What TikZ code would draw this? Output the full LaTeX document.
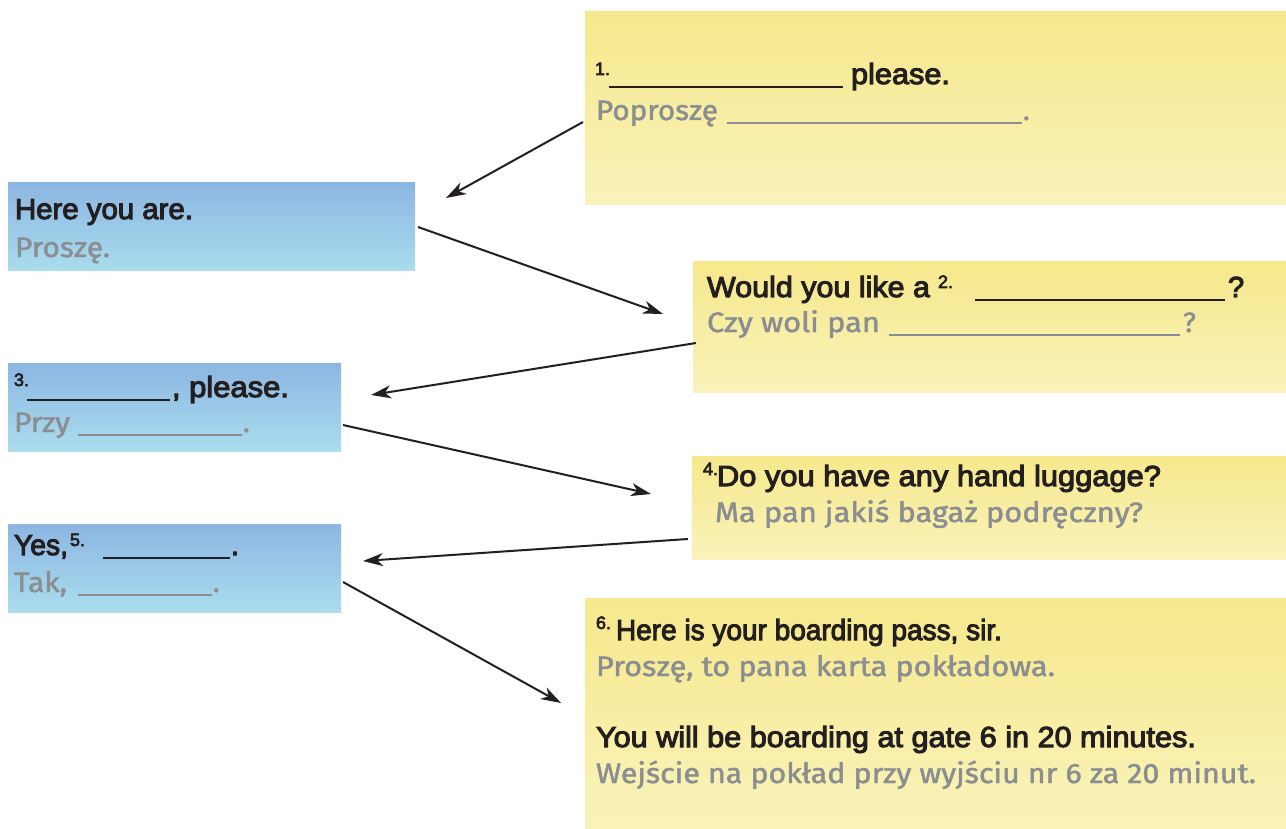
\documentclass[tikz,border=0pt]{standalone}
\usepackage{fontspec}
\setmainfont{Liberation Sans}
\newfontfamily\medfont[FakeBold=3.5]{Liberation Sans}
\newfontfamily\greyfont[FakeBold=1.5]{Fira Sans}
\usetikzlibrary{arrows.meta}
\definecolor{ink}{RGB}{35,31,32}
\definecolor{greytext}{RGB}{138,141,145}
\definecolor{blueTop}{RGB}{140,182,226}
\definecolor{blueMid}{RGB}{160,208,234}
\definecolor{blueBot}{RGB}{170,221,237}
\definecolor{yelTop}{RGB}{246,232,140}
\definecolor{yelMid}{RGB}{247,238,168}
\definecolor{yelBot}{RGB}{249,243,186}
\newcommand\seg[6]{\node[#5] (#1) at (#2,#3) {\resizebox{#4pt}{\height}{#6}};}
\tikzset{
  blk/.style={anchor=base west, inner sep=0pt, outer sep=0pt, text=ink, font=\medfont\fontsize{29}{34}\selectfont},
  gry/.style={anchor=base west, inner sep=0pt, outer sep=0pt, text=greytext, font=\greyfont\fontsize{28}{33}\selectfont},
  supn/.style={anchor=base west, inner sep=0pt, outer sep=0pt, text=ink, font=\medfont\fontsize{18}{21}\selectfont},
  blankk/.style={draw=ink, line width=1.3pt},
  blankg/.style={draw=greytext, line width=1.3pt},
  bluebox/.style={anchor=north west, inner sep=0pt, outer sep=0pt, draw=none, top color=blueTop, middle color=blueMid, bottom color=blueBot},
  yelbox/.style={anchor=north west, inner sep=0pt, outer sep=0pt, draw=none, top color=yelTop, middle color=yelMid, bottom color=yelBot},
  conn/.style={draw=ink, line width=2pt, -{Stealth[length=20pt,width=13pt,inset=6pt]}}
}
\begin{document}
\begin{tikzpicture}[x=1pt,y=-1pt]
\useasboundingbox (0,0) rectangle (1286,829);
% boxes
\node[yelbox, minimum width=701pt, minimum height=193pt] (y1) at (585,12) {};
\node[bluebox, minimum width=407pt, minimum height=88pt] (b1) at (8,183) {};
\node[yelbox, minimum width=593pt, minimum height=130pt] (y2) at (693,262) {};
\node[bluebox, minimum width=333pt, minimum height=88pt] (b2) at (8,363) {};
\node[yelbox, minimum width=594pt, minimum height=103pt] (y3) at (692,456) {};
\node[bluebox, minimum width=333pt, minimum height=88pt] (b3) at (8,524) {};
\node[yelbox, minimum width=701pt, minimum height=230pt] (y4) at (585,598) {};
% yellow 1
\node[supn] (s1) at (595,75) {1.};
\draw[blankk] (609,87) -- (843,87);
\seg{t1a}{851}{84}{99}{blk}{please.}
\seg{t1b}{596}{120}{122}{gry}{Poproszę}
\draw[blankg] (727,123) -- (1022,123);
\node[gry] (t1c) at (1023,120) {.};
% blue 1
\seg{t2a}{15}{219}{178}{blk}{Here you are.}
\seg{t2b}{15}{257}{95}{gry}{Proszę.}
% yellow 2
\seg{t3a}{707}{297}{223}{blk}{Would you like a}
\node[supn] (s2) at (938,288) {2.};
\draw[blankk] (975,300) -- (1225,300);
\node[blk] (t3b) at (1228,297) {?};
\seg{t3c}{707}{332}{173}{gry}{Czy woli pan}
\draw[blankg] (889,335) -- (1180,335);
\node[gry] (t3d) at (1183,332) {?};
% blue 2
\node[supn] (s3) at (14,386) {3.};
\draw[blankk] (27,400) -- (170,400);
\seg{t4a}{172}{397}{117}{blk}{, please.}
\seg{t4b}{14}{432}{56}{gry}{Przy}
\draw[blankg] (78,435) -- (242,435);
\node[gry] (t4c) at (243,432) {.};
% yellow 3
\node[supn] (s4) at (703,475) {4.};
\seg{t5a}{717}{486}{444}{blk}{Do you have any hand luggage?}
\seg{t5b}{715}{522}{428}{gry}{Ma pan jakiś bagaż podręczny?}
% blue 3
\seg{t6a}{14}{555}{54}{blk}{Yes,}
\node[supn] (s5) at (70,546) {5.};
\draw[blankk] (103,558) -- (230,558);
\node[blk] (t6b) at (231,555) {.};
\seg{t6c}{14}{592}{53}{gry}{Tak,}
\draw[blankg] (78,595) -- (212,595);
\node[gry] (t6d) at (213,592) {.};
% yellow 4
\node[supn] (s6) at (596,629) {6.};
\seg{t7a}{616}{640}{386}{blk}{Here is your boarding pass, sir.}
\seg{t7b}{596}{676}{459}{gry}{Proszę, to pana karta pokładowa.}
\seg{t7c}{596}{747}{600}{blk}{You will be boarding at gate 6 in 20 minutes.}
\seg{t7d}{596}{783}{660}{gry}{Wejście na pokład przy wyjściu nr 6 za 20 minut.}
% connectors
\coordinate (a1s) at (583,122); \coordinate (a1e) at (446,198);
\coordinate (a2s) at (418,227); \coordinate (a2e) at (663,314);
\coordinate (a3s) at (696,343); \coordinate (a3e) at (371,395);
\coordinate (a4s) at (343,425); \coordinate (a4e) at (651,494);
\coordinate (a5s) at (688,539); \coordinate (a5e) at (363,561);
\coordinate (a6s) at (343,582); \coordinate (a6e) at (561,703);
\draw[conn] (a1s) -- (a1e);
\draw[conn] (a2s) -- (a2e);
\draw[conn] (a3s) -- (a3e);
\draw[conn] (a4s) -- (a4e);
\draw[conn] (a5s) -- (a5e);
\draw[conn] (a6s) -- (a6e);
\end{tikzpicture}
\end{document}
